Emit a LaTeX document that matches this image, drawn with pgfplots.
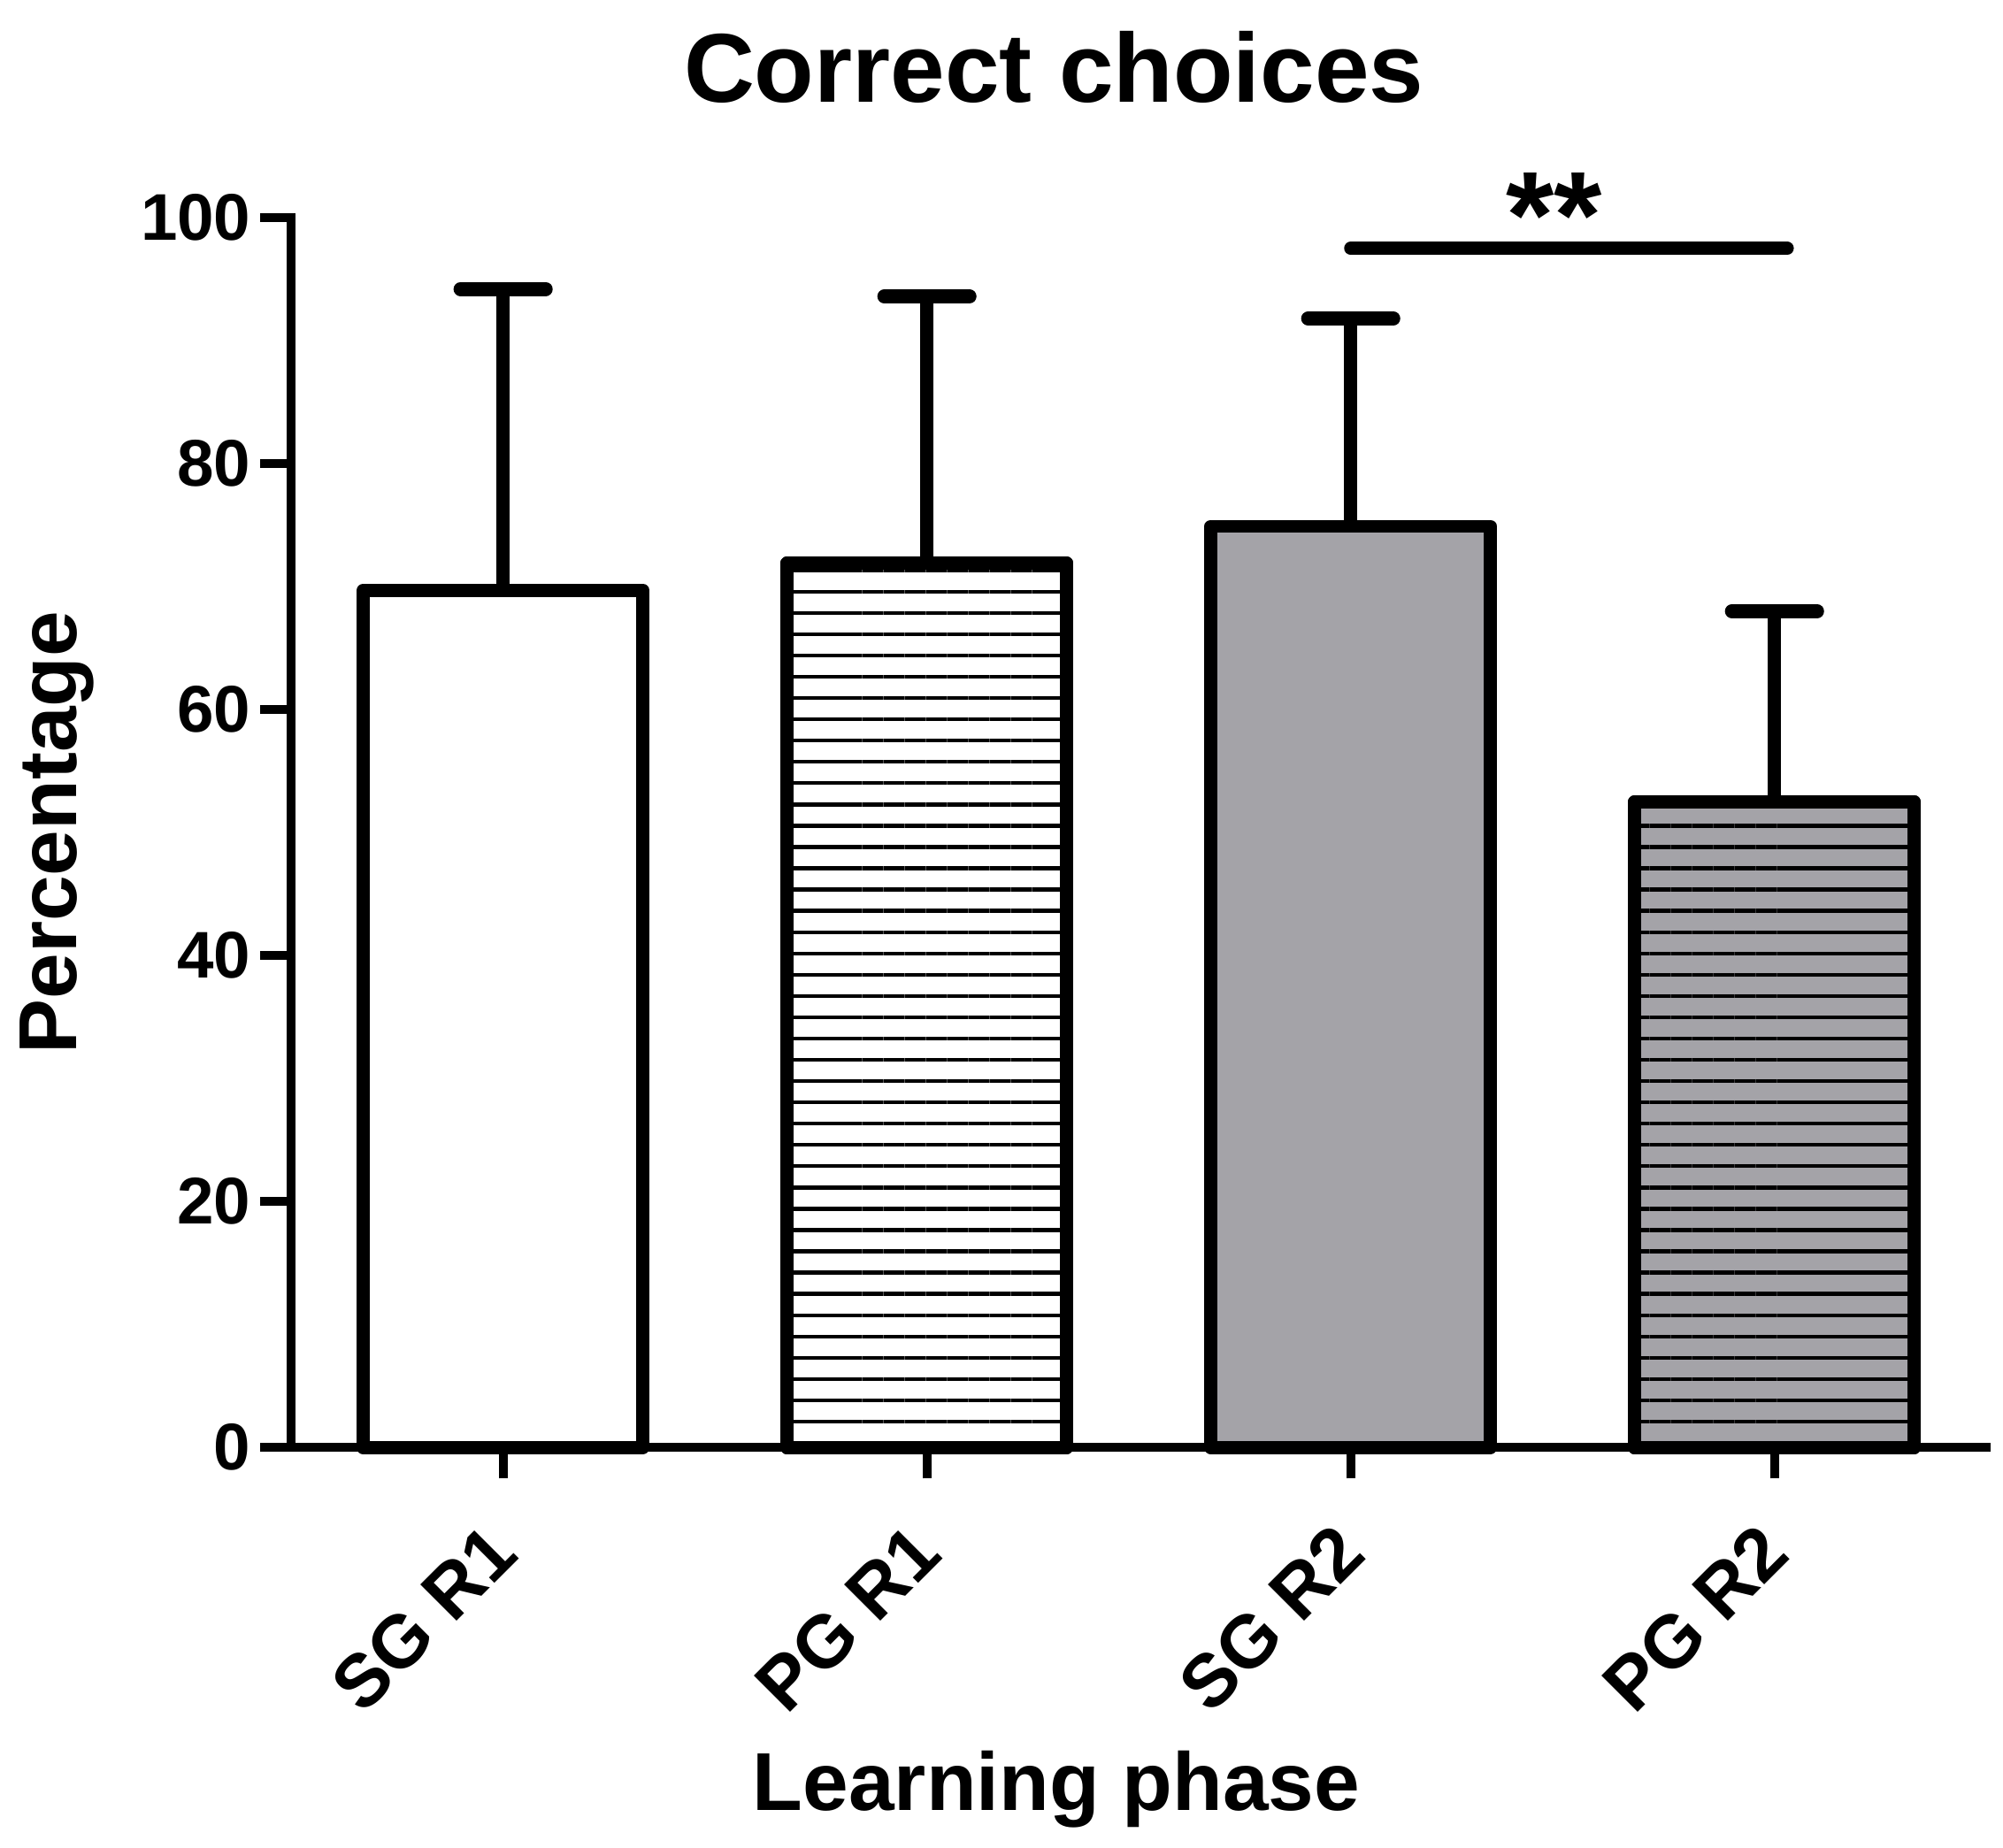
\documentclass[border=0pt]{standalone}
\usepackage{pgfplots}
\pgfplotsset{compat=1.18}
\usepackage{fontspec}
\setmainfont{Liberation Sans}
\usetikzlibrary{patterns.meta}
\definecolor{bargray}{RGB}{164,163,168}
\begin{document}
\begin{tikzpicture}
\begin{axis}[
  scale only axis, width=398.25pt, height=288.96pt,
  xmin=-0.5, xmax=3.5, ymin=0, ymax=100,
  axis lines*=left,
  axis line style={line width=2.1pt, line cap=rect},
  tick style={line width=2.1pt, black},
  major tick length=7.3pt, tick align=outside,
  xtick={0,1,2,3}, xticklabels={SG R1, PG R1, SG R2, PG R2},
  ytick={0,20,40,60,80,100},
  /pgf/number format/assume math mode=true,
  yticklabel style={font=\fontsize{15.5}{15.5}\selectfont\bfseries, inner sep=2pt},
  xticklabel style={font=\fontsize{17.5}{17.5}\selectfont\bfseries, xshift=0.8pt, yshift=-13.4pt, rotate=45, anchor=east, inner sep=1pt},
  ylabel={Percentage},
  ylabel style={font=\fontsize{19.3}{19.3}\selectfont\bfseries, at={(rel axis cs:-0.138,0.5)}, anchor=center},
  xlabel={Learning phase},
  xlabel style={font=\fontsize{19.3}{19.3}\selectfont\bfseries, at={(rel axis cs:0.4514,-0.278)}, anchor=center},
  clip=false,
  ybar, bar width=0.66, bar shift=0,
  error bars/y dir=plus, error bars/y explicit,
  error bars/error bar style={line width=3.1pt, black},
  error bars/error mark options={rotate=90, mark size=10pt, line width=3.3pt, line cap=round, black},
]
\path (rel axis cs:-0.1718,-0.325) rectangle (rel axis cs:1.0098,1.177);
\addplot[draw=black, fill=white, line width=3.1pt, line join=round]
  coordinates {(0,69.7) +- (0,24.5)};
\addplot[draw=black, fill=white, line width=3.1pt, line join=round,
  postaction={pattern={Lines[angle=0,distance=5pt,line width=0.9pt]}, pattern color=black}]
  coordinates {(1,71.9) +- (0,21.7)};
\addplot[draw=black, fill=bargray, line width=3.1pt, line join=round]
  coordinates {(2,74.9) +- (0,16.9)};
\addplot[draw=black, fill=bargray, line width=3.1pt, line join=round,
  postaction={pattern={Lines[angle=0,distance=5pt,line width=0.9pt]}, pattern color=black}]
  coordinates {(3,52.5) +- (0,15.5)};
\addplot[sharp plot, draw=black, line width=3.1pt, line cap=round, mark=none, forget plot]
  coordinates {(2,97.5) (3.03,97.5)};
\node[font=\fontsize{29}{29}\selectfont\bfseries, anchor=center] at (axis cs:2.48,100.2) {**};
\node[font=\fontsize{23}{23}\selectfont\bfseries, anchor=base] at (rel axis cs:0.4499,1.094) {Correct choices};
\end{axis}
\end{tikzpicture}
\end{document}
